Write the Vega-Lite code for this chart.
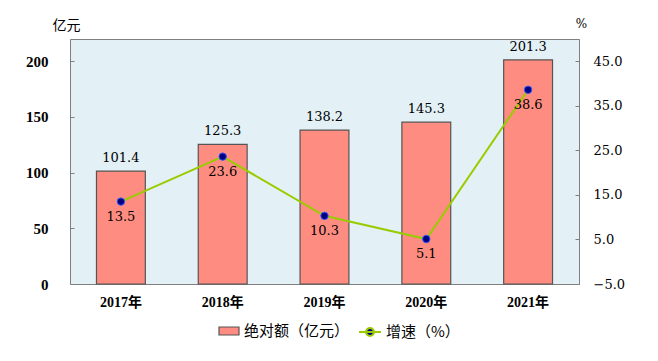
{
  "$schema": "https://vega.github.io/schema/vega-lite/v6.json",
  "width": 509,
  "height": 245,
  "autosize": {"type": "none"},
  "padding": {"left": 70, "top": 39, "right": 79, "bottom": 77},
  "background": "white",
  "config": {
    "view": {"stroke": "#7f7f7f", "fill": "#e3f1f6"},
    "font": "DejaVu Serif",
    "axis": {"labelColor": "#000", "labelFont": "DejaVu Serif", "labelFontSize": 13, "grid": false, "domain": false, "tickColor": "#7f7f7f", "titleFont": "Noto Sans CJK SC", "titleFontWeight": "normal", "titleColor": "#000"},
    "legend": {"labelFont": "Noto Sans CJK SC", "labelFontSize": 15, "labelColor": "#000"}
  },
  "data": {"values": [
    {"year": "2017", "value": 101.4, "rate": 13.5},
    {"year": "2018", "value": 125.3, "rate": 23.6},
    {"year": "2019", "value": 138.2, "rate": 10.3},
    {"year": "2020", "value": 145.3, "rate": 5.1},
    {"year": "2021", "value": 201.3, "rate": 38.6}
  ]},
  "encoding": {
    "x": {"field": "year", "type": "ordinal", "scale": {"paddingInner": 0.52, "paddingOuter": 0.26},
      "axis": {"title": null, "labelAngle": 0, "ticks": false, "labelPadding": 11, "labelFontWeight": "bold", "labelFont": "Liberation Serif, Noto Sans CJK SC", "labelFontSize": 14, "labelExpr": "datum.value + '年'"}}
  },
  "layer": [
    {
      "layer": [
        {
          "mark": {"type": "bar", "stroke": "#555555", "strokeWidth": 1.2},
          "encoding": {
            "y": {"field": "value", "type": "quantitative", "scale": {"domain": [0, 220]},
              "axis": {"values": [0, 50, 100, 150, 200], "tickSize": -4, "labelPadding": 26, "labelFontWeight": "bold", "labelFont": "Liberation Serif", "labelFontSize": 15,
                "title": "亿元", "titleAngle": 0, "titleX": -4, "titleY": -14, "titleAlign": "center", "titleBaseline": "middle", "titleFontSize": 14}},
            "fill": {"datum": "绝对额（亿元）", "scale": {"range": ["#ff8c80"]},
              "legend": {"title": null, "orient": "none", "legendX": 148, "legendY": 281, "symbolType": "M-1,-0.4H1V0.4H-1Z", "symbolSize": 400, "symbolStrokeColor": "#555555", "symbolStrokeWidth": 1.2}}
          }
        },
        {
          "mark": {"type": "text", "dy": -13, "fontSize": 13, "font": "DejaVu Serif", "color": "#000"},
          "encoding": {
            "y": {"field": "value", "type": "quantitative"},
            "text": {"field": "value", "format": ".1f"}
          }
        }
      ]
    },
    {
      "layer": [
        {
          "mark": {"type": "line", "strokeWidth": 2},
          "encoding": {
            "y": {"field": "rate", "type": "quantitative", "scale": {"domain": [-5, 50]},
              "axis": {"orient": "right", "values": [-5, 5, 15, 25, 35, 45], "format": ".1f", "tickSize": -4, "labelPadding": 18,
                "title": "%", "titleAngle": 0, "titleX": 2, "titleY": -16, "titleAlign": "center", "titleBaseline": "middle", "titleFontSize": 12, "titleFont": "DejaVu Serif"}},
            "stroke": {"datum": "增速（%）", "scale": {"range": ["#99cc00"]},
              "legend": {"title": null, "orient": "none", "legendX": 288, "legendY": 281, "symbolType": "M-1,0H1M-0.36,0A0.36,0.36 0 1,0 0.36,0A0.36,0.36 0 1,0 -0.36,0Z", "symbolSize": 484, "symbolStrokeWidth": 2, "symbolFillColor": "#000080",
                "encode": {"symbols": {"update": {"fill": {"value": "#000080"}}}}}}
          }
        },
        {
          "mark": {"type": "point", "filled": true, "fill": "#000080", "stroke": "#3355ff", "strokeWidth": 1, "size": 55, "opacity": 1},
          "encoding": {"y": {"field": "rate", "type": "quantitative"}}
        },
        {
          "mark": {"type": "text", "dy": 9, "baseline": "top", "fontSize": 13, "font": "DejaVu Serif", "color": "#000"},
          "encoding": {
            "y": {"field": "rate", "type": "quantitative"},
            "text": {"field": "rate", "format": ".1f"}
          }
        }
      ]
    }
  ],
  "resolve": {"scale": {"y": "independent"}}
}
